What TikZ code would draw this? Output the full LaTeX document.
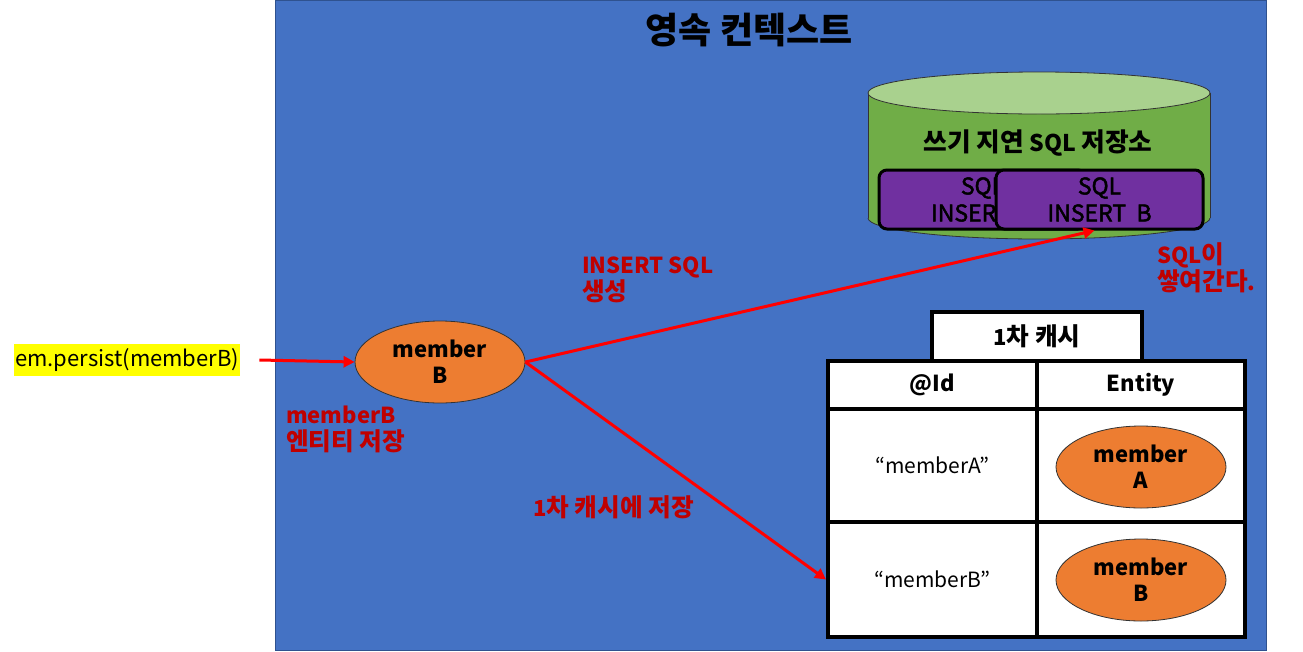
\documentclass[tikz,border=0pt]{standalone}
\usepackage{fontspec}
\setmainfont{Noto Sans CJK KR}
\newfontfamily\krfont{Noto Sans CJK KR}[Scale=1.12]
\newfontfamily\semifont{Noto Sans CJK KR}[FakeBold=2]
\newcommand{\K}[1]{{\krfont #1}}
\usetikzlibrary{arrows.meta,shapes.geometric}
\definecolor{bgblue}{HTML}{4472C4}
\definecolor{bgborder}{HTML}{2F528F}
\definecolor{orangeE}{HTML}{ED7D31}
\definecolor{greenC}{HTML}{70AD47}
\definecolor{greenT}{HTML}{A9D18E}
\definecolor{purpleS}{HTML}{7030A0}
\definecolor{labred}{HTML}{C00000}
\definecolor{arrred}{HTML}{FF0000}
\definecolor{hlyellow}{HTML}{FFFF00}
\tikzset{
  ent/.style={ellipse, draw=black!80, line width=0.8pt, fill=orangeE, minimum width=170pt, minimum height=82pt, inner sep=0pt, align=center, font=\fontsize{22}{26}\selectfont\bfseries},
  sqlbox/.style={draw=black, line width=3pt, fill=purpleS, rounded corners=8pt, minimum width=207pt, minimum height=59pt, inner sep=0pt, align=center, font=\semifont\fontsize{23}{27}\selectfont},
  cell/.style={draw=black, line width=4pt, fill=white, inner sep=0pt, align=center},
  lab/.style={text=labred, font=\fontsize{22}{27}\selectfont\bfseries, align=left, inner sep=0pt},
  arr/.style={draw=arrred, line width=3pt, -{Triangle[length=11pt,width=11pt]}},
}
\begin{document}
\begin{tikzpicture}[x=1pt,y=-1pt]
\useasboundingbox (0,0) rectangle (1303,651);
\fill[white] (0,0) rectangle (1303,651);
% persistence context
\draw[fill=bgblue, draw=bgborder, line width=0.8pt] (275,0.5) rectangle (1266,650);
\node[font=\fontsize{36}{40}\selectfont\bfseries] (title) at (749,30) {영속 컨텍스트};
% cylinder
\fill[greenC] (868,93) rectangle (1210,218);
\fill[greenC] (1039,218) ellipse (171 and 21);
\draw[black!80, line width=0.8pt] (868,93) -- (868,218) (1210,93) -- (1210,218);
\begin{scope}
\clip (860,218) rectangle (1220,250);
\draw[black!80, line width=0.8pt] (1039,218) ellipse (171 and 21);
\end{scope}
\draw[fill=greenT, draw=black!80, line width=0.8pt] (1039,93) ellipse (171 and 21);
\node[font=\fontsize{23}{26}\selectfont\bfseries] (store) at (1038,143) {\K{쓰기 지연} SQL \K{저장소}};
\node[sqlbox] (sqlA) at (982.5,199.5) {SQL\\INSERT\ \ A};
\node[sqlbox] (sqlB) at (1099.5,199.5) {SQL\\INSERT\ \ B};
% first level cache
\node[cell, minimum width=210pt, minimum height=49pt, font=\fontsize{22}{26}\selectfont\bfseries] (cache) at (1037,336.5) {1\K{차 캐시}};
\node[cell, minimum width=209pt, minimum height=48pt, font=\fontsize{22}{26}\selectfont\bfseries] (hid) at (932.5,385) {@Id};
\node[cell, minimum width=208pt, minimum height=48pt, font=\fontsize{22}{26}\selectfont\bfseries] (hent) at (1141,385) {Entity};
\node[cell, minimum width=209pt, minimum height=113pt, font=\fontsize{21}{26}\selectfont] (idA) at (932.5,465.5) {“memberA”};
\node[cell, minimum width=208pt, minimum height=113pt] (entA) at (1141,465.5) {};
\node[cell, minimum width=209pt, minimum height=115pt, font=\fontsize{21}{26}\selectfont] (idB) at (932.5,579.5) {“memberB”};
\node[cell, minimum width=208pt, minimum height=115pt] (entB) at (1141,579.5) {};
\node[ent] (mA) at (1141,467) {member\\A};
\node[ent] (mB2) at (1141,580) {member\\B};
% main entity
\node[ent] (mB) at (440,362) {member\\B};
\node[fill=hlyellow, inner xsep=1pt, inner ysep=4pt, font=\fontsize{22}{26}\selectfont, anchor=west] (pers) at (14,360) {em.persist(memberB)};
% labels
\node[lab, anchor=north west] (l1) at (286,406) {memberB\\\K{엔티티 저장}};
\node[lab, anchor=north west] (l2) at (582,257) {INSERT SQL\\\K{생성}};
\node[lab, anchor=west] (l3) at (533,507) {1\K{차 캐시에 저장}};
\node[lab, anchor=north west] (l4) at (1157,242) {SQL\K{이}\\\K{쌓여간다}.};
% connectors
\draw[arr] ([xshift=19pt]pers.east) -- (mB.west);
\draw[arr] (mB.east) -- ([xshift=-5pt]sqlB.south);
\draw[arr] (mB.east) -- (idB.west);
\end{tikzpicture}
\end{document}
